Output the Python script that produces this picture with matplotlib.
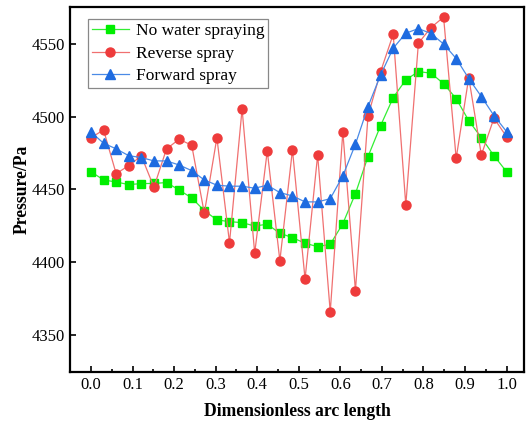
import numpy as np
import matplotlib
matplotlib.use('Agg')
import matplotlib.pyplot as plt
from matplotlib.ticker import MultipleLocator

# dimensionless arc length, 34 stations
arc = np.arange(34) / 33

no_spray = [4462.1, 4456.4, 4455.0, 4453.2, 4453.9, 4454.0, 4454.6, 4449.5, 4444.0, 4435.3,
            4428.9, 4427.7, 4427.0, 4424.7, 4425.9, 4419.7, 4416.7, 4412.8, 4410.5, 4412.1,
            4426.3, 4447.0, 4472.5, 4493.8, 4513.1, 4525.3, 4531.0, 4529.9, 4522.7, 4512.4,
            4497.2, 4485.5, 4473.1, 4462.1]
reverse = [4485.5, 4490.8, 4460.7, 4466.3, 4472.9, 4451.4, 4477.8, 4484.4, 4480.3, 4433.5,
           4485.5, 4413.2, 4505.3, 4406.0, 4476.4, 4400.8, 4477.1, 4388.2, 4473.6, 4365.5,
           4489.5, 4380.2, 4500.5, 4531.0, 4556.7, 4439.2, 4550.5, 4561.3, 4568.5, 4471.3,
           4526.9, 4473.6, 4498.9, 4486.2]
forward = [4489.3, 4481.7, 4477.8, 4473.1, 4471.8, 4469.5, 4469.5, 4466.7, 4462.8, 4456.4,
           4452.8, 4452.1, 4452.1, 4450.7, 4452.8, 4447.7, 4445.4, 4441.3, 4441.3, 4443.5,
           4459.2, 4481.0, 4506.9, 4528.7, 4547.1, 4557.4, 4560.6, 4557.2, 4550.0, 4540.0,
           4526.2, 4513.8, 4500.7, 4489.7]

labels = ['No water spraying', 'Reverse spray', 'Forward spray']

plt.rcParams['font.family'] = ['Liberation Serif', 'DejaVu Serif']
plt.rcParams['font.size'] = 12

fig = plt.figure(figsize=(5.27, 4.23), dpi=100)
ax = fig.add_axes([0.1328, 0.1206, 0.8615, 0.863])

ax.plot(arc, no_spray, color='#33ee33', lw=0.9, marker='s', ms=6,
        mfc='#00ee00', mec='#00ee00', label=labels[0])
ax.plot(arc, reverse, color='#f07070', lw=0.9, marker='o', ms=6.5,
        mfc='#ee3b3b', mec='#ee3b3b', label=labels[1])
ax.plot(arc, forward, color='#4a8ae6', lw=0.9, marker='^', ms=6.5,
        mfc='#1e6be0', mec='#1e6be0', label=labels[2])

ax.set_xlim(-0.0505, 1.042)
ax.set_ylim(4324.2, 4575.5)
ax.xaxis.set_major_locator(MultipleLocator(0.1))
ax.xaxis.set_minor_locator(MultipleLocator(0.05))
ax.yaxis.set_major_locator(MultipleLocator(50))
ax.tick_params(which='both', direction='in', labelsize=12, width=1.2)
ax.tick_params(which='major', length=4)
ax.tick_params(which='minor', length=2)
for s in ax.spines.values():
    s.set_linewidth(1.6)

ax.set_xlabel('Dimensionless arc length', fontweight='bold', fontsize=12.7, labelpad=7)
ax.set_ylabel('Pressure/Pa', fontweight='bold', fontsize=12.7, labelpad=1)

leg = ax.legend(loc='upper left', bbox_to_anchor=(0.0403, 0.966), borderaxespad=0,
                fancybox=False, edgecolor='#888888', framealpha=1, borderpad=0.22,
                labelspacing=0.36, handlelength=2.1, handletextpad=0.4, fontsize=12.5)
leg.get_frame().set_linewidth(0.9)

fig.savefig('out.png', dpi=100)
